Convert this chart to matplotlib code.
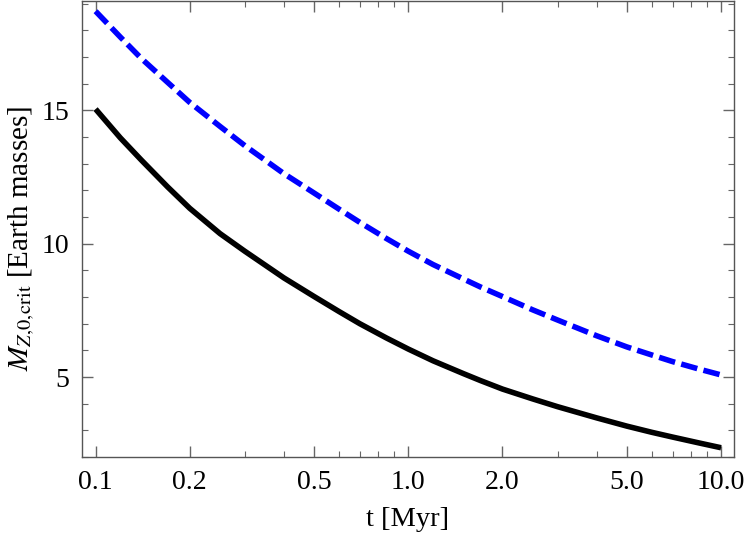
import numpy as np
import matplotlib
matplotlib.use("Agg")
import matplotlib.pyplot as plt
from matplotlib.ticker import FixedLocator, FixedFormatter

# ── Data ─────────────────────────────────────────────────────────────────
t_myr = [0.1, 0.12, 0.14, 0.17, 0.2, 0.25, 0.3, 0.4, 0.5, 0.6, 0.7, 0.85,
         1.0, 1.2, 1.5, 1.7, 2.0, 2.5, 3.0, 4.0, 5.0, 6.0, 7.0, 8.5, 10.0]
m_crit_solid = [15.05, 13.97, 13.14, 12.13, 11.33, 10.38, 9.72, 8.72, 8.02,
                7.46, 7.0, 6.47, 6.05, 5.61, 5.13, 4.87, 4.55, 4.18, 3.89,
                3.47, 3.16, 2.93, 2.75, 2.53, 2.35]
m_crit_dashed = [18.72, 17.75, 16.95, 16.05, 15.3, 14.4, 13.68, 12.63, 11.9,
                 11.3, 10.8, 10.2, 9.72, 9.22, 8.68, 8.38, 8.02, 7.52, 7.14,
                 6.55, 6.13, 5.83, 5.58, 5.3, 5.08]

x_major = [0.1, 0.2, 0.5, 1.0, 2.0, 5.0, 10.0]
x_labels = ["0.1", "0.2", "0.5", "1.0", "2.0", "5.0", "10.0"]
x_minor = [0.3, 0.4, 0.6, 0.7, 0.8, 0.9, 3, 4, 6, 7, 8, 9]
y_major = [5, 10, 15]

plt.rcParams["font.family"] = ["Liberation Serif", "DejaVu Serif"]
plt.rcParams["mathtext.fontset"] = "stix"

fig = plt.figure(figsize=(7.47, 5.39), dpi=100)
ax = fig.add_axes([0.1098, 0.152, 0.8728, 0.846])

ax.plot(t_myr, m_crit_solid, color="black", linewidth=4.0,
        solid_capstyle="butt", solid_joinstyle="round")
ax.plot(t_myr, m_crit_dashed, color="#0000FF", linewidth=4.0,
        linestyle=(0, (3.0, 1.15)), dash_capstyle="butt", dash_joinstyle="round")

ax.set_xscale("log")
ax.set_xlim(0.0905, 11.0)
ax.set_ylim(2.0, 19.1)

ax.xaxis.set_major_locator(FixedLocator(x_major))
ax.xaxis.set_major_formatter(FixedFormatter(x_labels))
ax.xaxis.set_minor_locator(FixedLocator(x_minor))
ax.xaxis.set_minor_formatter(FixedFormatter([""] * len(x_minor)))
ax.yaxis.set_major_locator(FixedLocator(y_major))
ax.yaxis.set_minor_locator(FixedLocator([v for v in range(2, 20) if v not in y_major]))

ax.tick_params(which="both", direction="in", top=True, right=True,
               colors="#666666", labelcolor="black", labelsize=20)
ax.tick_params(which="major", length=8, width=1.0, pad=9)
ax.tick_params(which="minor", length=4, width=0.8)

for s in ax.spines.values():
    s.set_color("#555555")
    s.set_linewidth(1.0)

ax.set_xlabel("t [Myr]", fontsize=20.5, labelpad=9)
ax.set_ylabel(r"$M_{Z,\!\mathrm{0,\!crit}}$ [Earth masses]", fontsize=21)
ax.yaxis.set_label_coords(-0.069, 0.48)

fig.savefig("out.png", dpi=100)
